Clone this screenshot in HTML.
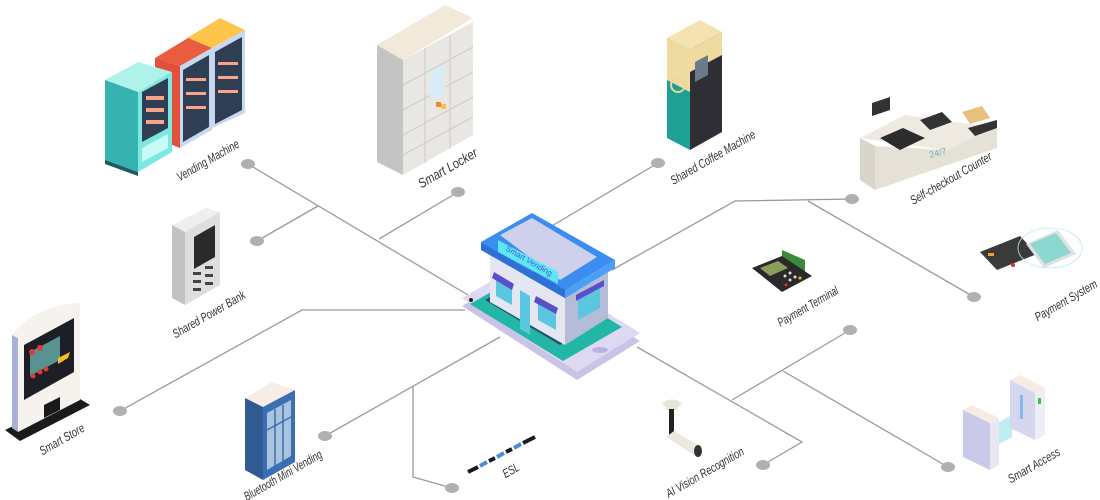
<!DOCTYPE html>
<html><head><meta charset="utf-8"><style>
html,body{margin:0;padding:0;background:#fff;}
svg{display:block;}
text{font-family:"Liberation Sans",sans-serif;font-style:italic;font-size:12.5px;fill:#333;}
</style></head><body>
<svg width="1100" height="500" viewBox="0 0 1100 500" xmlns="http://www.w3.org/2000/svg">
<g stroke="#9a9a9a" stroke-width="1.3" fill="none">
<polyline points="248,164 473,298"/>
<polyline points="318,206 257,241"/>
<polyline points="458,192 379,239"/>
<polyline points="120,411 302,310 465,310"/>
<polyline points="658,163 545,230"/>
<polyline points="852,199 735,201 612,270"/>
<polyline points="808,201 974,297"/>
<polyline points="325,436 500,337"/>
<polyline points="413,387 413,477 452,488"/>
<polyline points="637,347 802,442 763,465"/>
<polyline points="850,330 732,400"/>
<polyline points="783,371 948,467"/>
</g>
<g fill="#b0b0b0">
<ellipse cx="248" cy="164" rx="7" ry="5"/>
<ellipse cx="257" cy="241" rx="7" ry="5"/>
<ellipse cx="458" cy="192" rx="7" ry="5"/>
<ellipse cx="120" cy="411" rx="7" ry="5"/>
<ellipse cx="658" cy="163" rx="7" ry="5"/>
<ellipse cx="852" cy="199" rx="7" ry="5"/>
<ellipse cx="974" cy="297" rx="7" ry="5"/>
<ellipse cx="325" cy="436" rx="7" ry="5"/>
<ellipse cx="452" cy="488" rx="7" ry="5"/>
<ellipse cx="763" cy="465" rx="7" ry="5"/>
<ellipse cx="850" cy="330" rx="7" ry="5"/>
<ellipse cx="948" cy="467" rx="7" ry="5"/>
</g>

<polygon points="187,38 220,18 245,30 212,48" fill="#ffc54a"/>
<polygon points="212,48 245,30 245,113 212,128" fill="#c8d8f0"/>
<polygon points="215,52 242,37 242,110 215,124" fill="#2f3e52"/>
<polygon points="155,58 188,38 212,48 180,66" fill="#ea5c40"/>
<polygon points="155,58 180,66 180,148 155,138" fill="#e0503a"/>
<polygon points="180,66 212,48 212,130 180,148" fill="#c8d8f0"/>
<polygon points="183,70 209,55 209,127 183,142" fill="#2f3e52"/>
<polygon points="105,80 138,62 172,72 138,92" fill="#aef2ea"/>
<polygon points="105,80 138,92 138,172 105,160" fill="#36b2b0"/>
<polygon points="138,92 172,72 172,152 138,172" fill="#7de8e0"/>
<polygon points="142,92 168,78 168,128 142,142" fill="#2f3e52"/>
<polygon points="142,148 168,134 168,148 142,162" fill="#c8fbf6"/>
<polygon points="105,160 138,172 138,176 105,164" fill="#1d5a66"/>
<g fill="#f4a58a"><rect x="186" y="78" width="20" height="3"/><rect x="186" y="92" width="20" height="3"/><rect x="186" y="106" width="20" height="3"/><rect x="218" y="62" width="20" height="3"/><rect x="218" y="76" width="20" height="3"/><rect x="218" y="90" width="20" height="3"/><rect x="146" y="96" width="18" height="4"/><rect x="146" y="108" width="18" height="4"/><rect x="146" y="120" width="18" height="4"/></g>

<polygon points="377,45 445,5 473,18 403,60" fill="#f3e9da"/>
<polygon points="377,45 403,60 403,175 377,162" fill="#c4c4c4"/>
<polygon points="403,60 473,22 473,135 403,175" fill="#e9e7e3"/>
<g stroke="#cfcbc5" stroke-width="1"><line x1="425" y1="48" x2="425" y2="163"/><line x1="450" y1="35" x2="450" y2="149"/><line x1="403" y1="85" x2="473" y2="47"/><line x1="403" y1="110" x2="473" y2="72"/><line x1="403" y1="135" x2="473" y2="97"/><line x1="403" y1="155" x2="473" y2="117"/></g>
<polygon points="430,72 445,64 445,92 430,100" fill="#d8ecf8"/>
<rect x="436" y="102" width="5" height="5" fill="#f08a2a"/><rect x="441" y="104" width="5" height="5" fill="#ffc040"/>

<polygon points="667,38 700,20 722,32 690,50" fill="#f4e3b0"/>
<polygon points="667,38 690,50 690,150 667,138" fill="#1fa095"/>
<polygon points="667,38 690,50 690,92 667,80" fill="#efdba0"/>
<polygon points="690,50 722,32 722,132 690,150" fill="#2e2e34"/>
<polygon points="690,50 722,32 722,55 690,72" fill="#efdba0"/>
<polygon points="695,62 708,55 708,75 695,82" fill="#6a7a88"/>
<circle cx="678" cy="85" r="7" fill="none" stroke="#e9d89e" stroke-width="2"/>

<polygon points="860,138 905,115 997,128 945,150" fill="#eeeae2"/>
<polygon points="860,138 875,146 875,190 860,180" fill="#dad5ca"/>
<polygon points="875,146 945,150 997,128 997,148 875,190" fill="#e6e1d6"/>
<polygon points="880,138 903,128 925,138 900,150" fill="#2c2c2c"/>
<polygon points="920,120 942,112 952,122 930,130" fill="#333"/>
<polygon points="962,112 982,106 990,118 970,124" fill="#e8c080"/>
<polygon points="968,128 997,120 997,128 975,136" fill="#333"/>
<polygon points="872,103 890,97 890,110 872,116" fill="#333"/>
<text x="930" y="158" style="font-style:normal;font-size:9px;fill:#6ab0b0" transform="rotate(-14 930 158)">24/7</text>

<polygon points="172,225 206,208 220,212 185,232" fill="#efefef"/>
<polygon points="172,225 185,232 185,305 172,298" fill="#c2c2c2"/>
<polygon points="185,232 220,212 220,285 185,305" fill="#dedede"/>
<polygon points="194,237 215,225 215,257 194,269" fill="#2a2a2a"/>
<g fill="#444"><rect x="193" y="272" width="8" height="3"/><rect x="205" y="266" width="8" height="3"/><rect x="193" y="280" width="8" height="3"/><rect x="205" y="274" width="8" height="3"/><rect x="193" y="288" width="8" height="3"/><rect x="205" y="282" width="8" height="3"/></g>

<polygon points="5,430 75,396 90,405 20,441" fill="#1a1a1a"/>
<polygon points="12,335 18,338 18,432 12,428" fill="#aab0d8"/>
<path d="M12,335 Q35,305 80,303 L80,400 L18,432 L18,338 Z" fill="#f6f3ee"/>
<polygon points="24,345 74,318 74,372 24,400" fill="#1e1e26"/>
<polygon points="30,352 60,336 60,360 30,376" fill="#7ee0d8" opacity="0.6"/>
<g fill="#e23a3a"><circle cx="32" cy="352" r="3"/><circle cx="40" cy="348" r="3"/><circle cx="33" cy="376" r="2.5"/><circle cx="40" cy="372" r="2.5"/><circle cx="46" cy="369" r="2.5"/></g>
<polygon points="58,358 70,352 68,358 58,364" fill="#f2c020"/>
<polygon points="44,405 60,397 60,410 44,418" fill="#1a1a1a"/>

<polygon points="462,306 525,270 640,341 577,380" fill="#c9c3e6"/>
<polygon points="462,298 525,262 640,333 577,372" fill="#ddd9f3"/>
<polygon points="470,304 530,270 622,327 563,361" fill="#22b6a6"/>
<polygon points="485,300 540,268 608,310 560,345" fill="#2a4a6a"/>
<ellipse cx="600" cy="350" rx="8" ry="3" fill="#b9b2de"/>
<circle cx="471" cy="300" r="2" fill="#222"/>
<polygon points="490,255 565,298 565,345 490,302" fill="#e4e6f2"/>
<polygon points="565,298 608,272 608,318 565,345" fill="#b4bcd8"/>
<polygon points="520,290 530,296 530,335 520,329" fill="#5bc6e0"/>
<polygon points="496,278 512,287 512,305 496,296" fill="#5bc6e0"/>
<polygon points="538,302 556,312 556,330 538,320" fill="#5bc6e0"/>
<polygon points="578,300 600,288 600,308 578,320" fill="#5bc6e0"/>
<polygon points="494,272 514,284 512,290 492,278" fill="#5a4fc8"/>
<polygon points="536,296 558,308 556,314 534,302" fill="#5a4fc8"/>
<polygon points="576,295 604,280 604,286 576,301" fill="#5a4fc8"/>
<polygon points="481,242 532,213 615,260 565,290" fill="#3b8ef0"/>
<polygon points="481,242 565,290 565,298 481,250" fill="#2f6fd8"/>
<polygon points="565,290 615,260 615,268 565,298" fill="#4aa0f4"/>
<polygon points="500,235 532,218 597,257 560,280" fill="#cfd1ec"/>
<polygon points="498,240 558,272 558,284 498,252" fill="#5ce8f2"/>
<text x="505" y="250" style="font-style:normal;font-size:8px;fill:#4a5ad0" transform="rotate(30 505 250)">Smart Vending</text>

<polygon points="245,398 272,382 295,390 263,407" fill="#f8ede4"/>
<polygon points="245,398 263,407 263,480 245,470" fill="#2f5a92"/>
<polygon points="263,407 295,390 295,462 263,480" fill="#3a6fb4"/>
<polygon points="267,413 291,400 291,456 267,470" fill="#a9c4dc"/>
<g stroke="#3a6fb4" stroke-width="1.5"><line x1="275" y1="409" x2="275" y2="466"/><line x1="283" y1="405" x2="283" y2="461"/><line x1="267" y1="430" x2="291" y2="417"/></g>

<g stroke-width="4">
<line x1="468" y1="472" x2="478" y2="467" stroke="#1a1a1a"/>
<line x1="480" y1="466" x2="487" y2="462" stroke="#4a8ed8"/>
<line x1="489" y1="461" x2="495" y2="458" stroke="#1a1a1a"/>
<line x1="497" y1="457" x2="504" y2="453" stroke="#4a8ed8"/>
<line x1="506" y1="452" x2="512" y2="449" stroke="#1a1a1a"/>
<line x1="514" y1="448" x2="521" y2="444" stroke="#4a8ed8"/>
<line x1="523" y1="443" x2="535" y2="437" stroke="#1a1a1a"/>
</g>

<path d="M662,403 Q672,396 682,403 L676,410 L668,410 Z" fill="#e8e4dc"/>
<rect x="669" y="409" width="5" height="27" fill="#222"/>
<polygon points="666,437 674,431 702,447 694,455" fill="#ece8e0"/>
<ellipse cx="698" cy="451" rx="4" ry="6" fill="#333"/>

<polygon points="782,250 805,260 805,275 782,265" fill="#3a8a3a"/>
<polygon points="752,268 782,256 812,276 782,292" fill="#2a2a2a"/>
<polygon points="760,268 778,261 788,268 770,276" fill="#8aa05a"/>
<g fill="#ddd"><circle cx="785" cy="276" r="1.5"/><circle cx="790" cy="273" r="1.5"/><circle cx="795" cy="277" r="1.5"/><circle cx="790" cy="280" r="1.5"/></g>
<circle cx="786" cy="285" r="1.5" fill="#e03030"/><circle cx="800" cy="278" r="1.5" fill="#f0c020"/>

<polygon points="980,252 1020,236 1037,254 997,270" fill="#3a3a3a"/>
<rect x="988" y="253" width="6" height="3" fill="#f0a020"/>
<circle cx="1013" cy="265" r="2" fill="#e03030"/>
<polygon points="1026,244 1058,230 1076,254 1044,268" fill="#e0e0e0"/>
<polygon points="1030,244 1056,233 1071,253 1045,264" fill="#8ad8d0"/>
<ellipse cx="1050" cy="248" rx="32" ry="20" fill="none" stroke="#bfe8f2" stroke-width="0.8"/>

<polygon points="963,410 972,405 999,418 990,423" fill="#f6ece4"/>
<polygon points="963,410 990,423 990,470 963,457" fill="#c8cae8"/>
<polygon points="990,423 999,418 999,465 990,470" fill="#e8e8f2"/>
<polygon points="999,422 1012,415 1012,437 999,444" fill="#9fe6ec" opacity="0.7"/>
<polygon points="1010,380 1020,375 1045,388 1035,393" fill="#f6ece4"/>
<polygon points="1010,380 1035,393 1035,440 1010,428" fill="#d5d7ee"/>
<polygon points="1035,393 1045,388 1045,435 1035,440" fill="#eeeef6"/>
<rect x="1020" y="395" width="3" height="24" fill="#8ab8f0"/>
<rect x="1038" y="398" width="3" height="6" fill="#40c040"/>

<g>
<text x="210" y="164" text-anchor="middle" textLength="70" lengthAdjust="spacingAndGlyphs" transform="rotate(-30 210 164)">Vending Machine</text>
<text x="450" y="172" text-anchor="middle" textLength="66" lengthAdjust="spacingAndGlyphs" transform="rotate(-30 450 172)" style="font-size:13.5px">Smart Locker</text>
<text x="715" y="161" text-anchor="middle" textLength="96" lengthAdjust="spacingAndGlyphs" transform="rotate(-30 715 161)">Shared Coffee Machine</text>
<text x="953" y="182" text-anchor="middle" textLength="92" lengthAdjust="spacingAndGlyphs" transform="rotate(-30 953 182)">Self-checkout Counter</text>
<text x="1068" y="304" text-anchor="middle" textLength="70" lengthAdjust="spacingAndGlyphs" transform="rotate(-30 1068 304)">Payment System</text>
<text x="211" y="318" text-anchor="middle" textLength="82" lengthAdjust="spacingAndGlyphs" transform="rotate(-30 211 318)">Shared Power Bank</text>
<text x="810" y="310" text-anchor="middle" textLength="68" lengthAdjust="spacingAndGlyphs" transform="rotate(-30 810 310)">Payment Terminal</text>
<text x="64" y="443" text-anchor="middle" textLength="50" lengthAdjust="spacingAndGlyphs" transform="rotate(-30 64 443)">Smart Store</text>
<text x="285" y="479" text-anchor="middle" textLength="88" lengthAdjust="spacingAndGlyphs" transform="rotate(-30 285 479)">Bluetooth Mini Vending</text>
<text x="513" y="474" text-anchor="middle" textLength="17" lengthAdjust="spacingAndGlyphs" transform="rotate(-30 513 474)">ESL</text>
<text x="707" y="476" text-anchor="middle" textLength="88" lengthAdjust="spacingAndGlyphs" transform="rotate(-30 707 476)">AI Vision Recognition</text>
<text x="1036" y="469" text-anchor="middle" textLength="58" lengthAdjust="spacingAndGlyphs" transform="rotate(-30 1036 469)">Smart Access</text>
</g>
</svg>
</body></html>
